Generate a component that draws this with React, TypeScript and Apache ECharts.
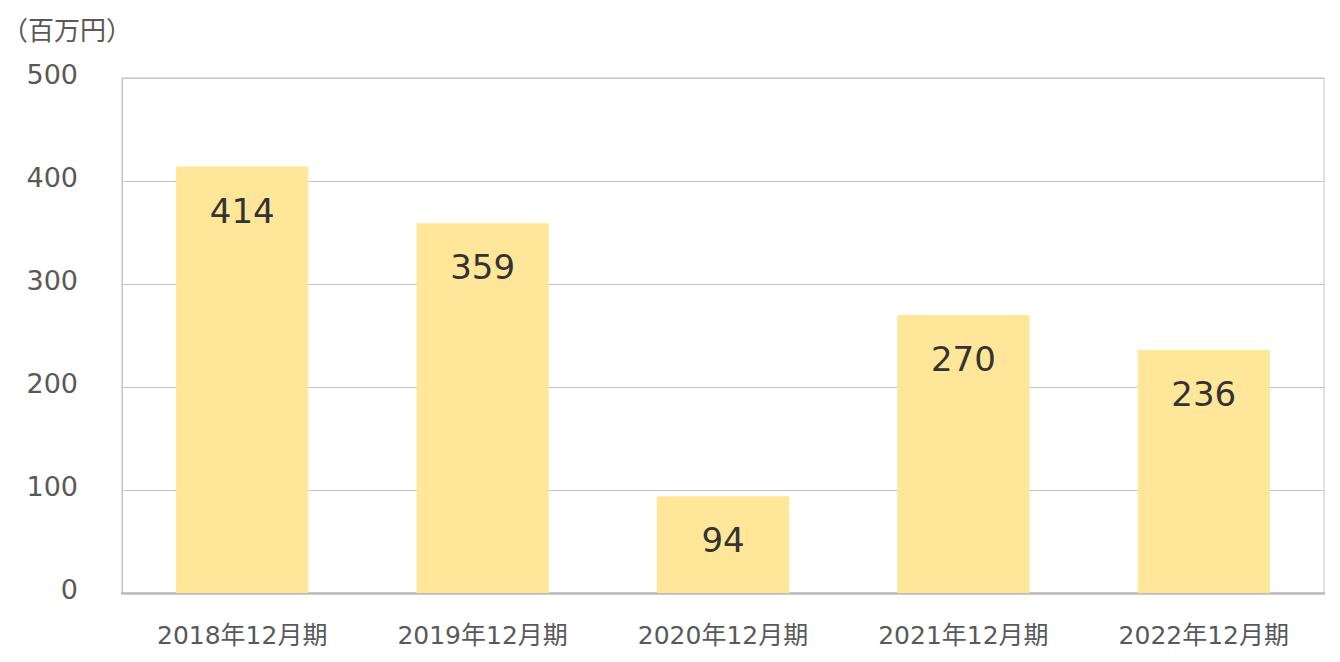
import React, { useEffect, useRef } from "react";
import * as echarts from "echarts";

const categories = ["2018年12月期", "2019年12月期", "2020年12月期", "2021年12月期", "2022年12月期"];
const values = [414, 359, 94, 270, 236];
const unitLabel = "（百万円）";
const yMin = 0;
const yMax = 500;
const yInterval = 100;

export default function App() {
  const ref = useRef<HTMLDivElement>(null);
  useEffect(() => {
    if (!ref.current) return;
    const chart = echarts.init(ref.current, undefined, { renderer: "svg" });
    chart.setOption({
      animation: false,
      backgroundColor: "#ffffff",
      grid: {
        left: 122,
        right: 16,
        top: 78,
        bottom: 69,
        show: true,
        borderColor: "#c4c4c4",
        borderWidth: 1,
      },
      title: {
        text: unitLabel,
        left: 2,
        top: 15,
        padding: 0,
        textStyle: {
          fontSize: 26,
          fontWeight: "normal",
          color: "#595959",
          fontFamily: "Noto Sans CJK JP",
        },
      },
      xAxis: {
        type: "category",
        data: categories,
        axisTick: { show: false },
        axisLine: { show: true, lineStyle: { color: "#bcbcbc", width: 2.5 } },
        axisLabel: {
          margin: 30,
          fontSize: 25,
          color: "#595959",
          fontFamily: "DejaVu Sans, Noto Sans CJK JP",
        },
      },
      yAxis: {
        type: "value",
        min: yMin,
        max: yMax,
        interval: yInterval,
        axisLine: { show: true, lineStyle: { color: "#c4c4c4", width: 1 } },
        axisTick: { show: false },
        splitLine: { show: true, lineStyle: { color: "#c4c4c4", width: 1.2 } },
        axisLabel: {
          margin: 44,
          fontSize: 27,
          color: "#595959",
          fontFamily: "DejaVu Sans",
          verticalAlign: "bottom",
          lineHeight: 8,
        },
      },
      series: [
        {
          type: "bar",
          data: values,
          barWidth: "55%",
          itemStyle: { color: "#FFE699" },
          label: {
            show: true,
            position: "insideTop",
            distance: 27,
            fontSize: 34,
            color: "#333333",
            fontFamily: "DejaVu Sans",
          },
        },
      ],
    });
    return () => chart.dispose();
  }, []);
  return (
    <div
      ref={ref}
      style={{ position: "absolute", left: 0, top: 0, width: 1340, height: 662 }}
    />
  );
}
